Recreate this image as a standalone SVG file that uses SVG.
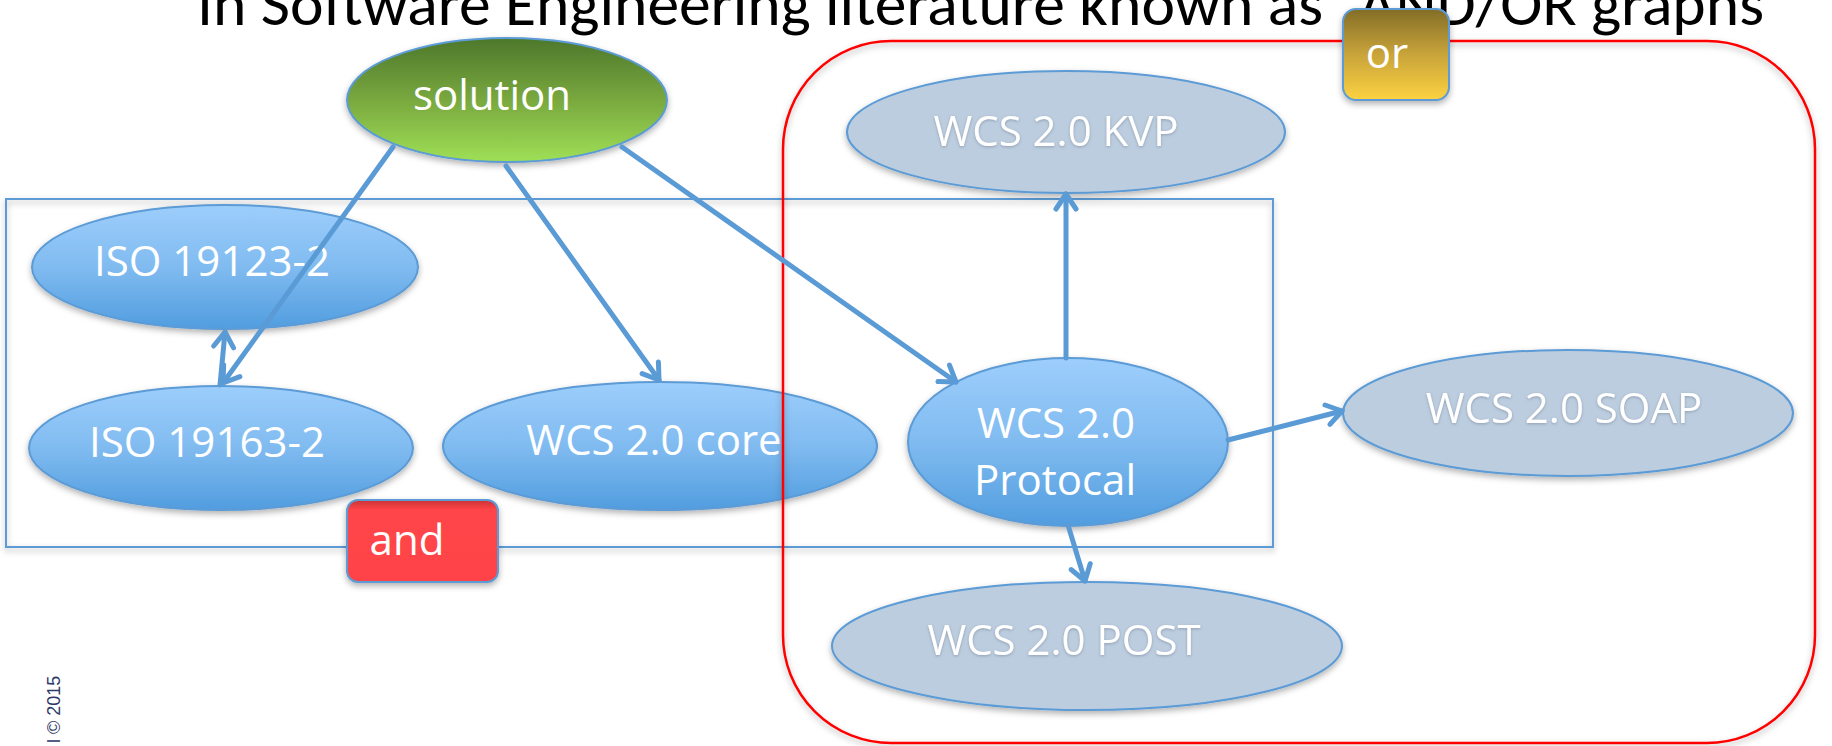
<svg xmlns="http://www.w3.org/2000/svg" width="1832" height="746" viewBox="0 0 1832 746">
  <style>
    .lbl { font-family: "Open Sans", "Liberation Sans", sans-serif; font-size: 42px; fill: #ffffff; text-anchor: middle; }
    .node { stroke: #5b9bd5; stroke-width: 2; }
    .blue { fill: url(#blueGrad); }
    .gray { fill: #bccddf; }
    .conn { fill: none; stroke: #5b9bd5; stroke-width: 5; stroke-linecap: round; }
  </style>
  <defs>
    <linearGradient id="blueGrad" x1="0" y1="0" x2="0" y2="1">
      <stop offset="0" stop-color="#9dcefc"/>
      <stop offset="0.5" stop-color="#80bbf0"/>
      <stop offset="1" stop-color="#519ddf"/>
    </linearGradient>
    <linearGradient id="greenGrad" x1="0" y1="0" x2="0" y2="1">
      <stop offset="0" stop-color="#4d782b"/>
      <stop offset="0.5" stop-color="#79a83f"/>
      <stop offset="1" stop-color="#9fe056"/>
    </linearGradient>
    <linearGradient id="goldGrad" x1="0" y1="0" x2="0" y2="1">
      <stop offset="0" stop-color="#836d27"/>
      <stop offset="0.5" stop-color="#c8a43a"/>
      <stop offset="1" stop-color="#fdd241"/>
    </linearGradient>
    <linearGradient id="redGrad" x1="0" y1="0" x2="0" y2="1">
      <stop offset="0" stop-color="#c93336"/>
      <stop offset="0.12" stop-color="#ff4548"/>
      <stop offset="1" stop-color="#ff4346"/>
    </linearGradient>
    <filter id="shadow" x="-10%" y="-10%" width="120%" height="130%">
      <feDropShadow dx="0" dy="3" stdDeviation="3" flood-color="#000" flood-opacity="0.3"/>
    </filter>
    <filter id="tshadow" x="-10%" y="-20%" width="120%" height="140%">
      <feDropShadow dx="0" dy="1" stdDeviation="1.5" flood-color="#6f7f90" flood-opacity="0.6"/>
    </filter>
    <marker id="arr" viewBox="0 0 26 26" refX="22" refY="13" markerWidth="26" markerHeight="26" markerUnits="userSpaceOnUse" orient="auto">
      <path d="M7,3 L22,13 L7,23" fill="none" stroke="#5b9bd5" stroke-width="5" stroke-linecap="round" stroke-linejoin="round"/>
    </marker>
  </defs>

  <rect width="1832" height="746" fill="#ffffff"/>

  <text id="title" x="197" y="25" font-family="Calibri, 'Open Sans', 'Liberation Sans', sans-serif" font-size="62" fill="#000000" textLength="1567" lengthAdjust="spacingAndGlyphs">In Software Engineering literature known as “AND/OR graphs</text>

  <g id="and-group">
    <rect x="6" y="199" width="1267" height="348" fill="none" stroke="#5b9bd5" stroke-width="2" filter="url(#shadow)"/>
  </g>

  <g id="iso19123">
    <ellipse class="node blue" cx="225" cy="267" rx="193" ry="62" filter="url(#shadow)"/>
    <text class="lbl" x="212" y="276">ISO 19123-2</text>
  </g>
  <g id="iso19163">
    <ellipse class="node blue" cx="221" cy="448" rx="192" ry="62" filter="url(#shadow)"/>
    <text class="lbl" x="207" y="457">ISO 19163-2</text>
  </g>
  <g id="wcs-core">
    <ellipse class="node blue" cx="660" cy="446" rx="217" ry="64" filter="url(#shadow)"/>
    <text class="lbl" x="654" y="455">WCS 2.0 core</text>
  </g>

  <g id="or-group">
    <rect x="783" y="41" width="1032" height="702" rx="108" ry="108" fill="none" stroke="#ff0000" stroke-width="2.5" filter="url(#shadow)"/>
  </g>

  <g id="solution">
    <ellipse class="node" cx="507" cy="100" rx="160" ry="62" fill="url(#greenGrad)" filter="url(#shadow)"/>
    <text class="lbl" x="492" y="110" font-size="41">solution</text>
  </g>

  <g id="wcs-kvp">
    <ellipse class="node gray" cx="1066" cy="132" rx="219" ry="61" filter="url(#shadow)"/>
    <text class="lbl" x="1056" y="146" filter="url(#tshadow)">WCS 2.0 KVP</text>
  </g>
  <g id="wcs-protocal">
    <ellipse class="node blue" cx="1068" cy="442" rx="160" ry="84" filter="url(#shadow)"/>
    <text class="lbl" x="1056" y="438">WCS 2.0</text>
    <text class="lbl" x="1055" y="495">Protocal</text>
  </g>
  <g id="wcs-soap">
    <ellipse class="node gray" cx="1568" cy="413" rx="225" ry="63" filter="url(#shadow)"/>
    <text class="lbl" x="1564" y="423" filter="url(#tshadow)">WCS 2.0 SOAP</text>
  </g>
  <g id="wcs-post">
    <ellipse class="node gray" cx="1087" cy="646" rx="255" ry="64" filter="url(#shadow)"/>
    <text class="lbl" x="1064" y="655" filter="url(#tshadow)">WCS 2.0 POST</text>
  </g>

  <g id="connectors">
    <line class="conn" x1="393" y1="147" x2="223" y2="383" marker-end="url(#arr)"/>
    <line class="conn" x1="220" y1="385" x2="225" y2="332" marker-end="url(#arr)"/>
    <line class="conn" x1="506" y1="166" x2="659" y2="380" marker-end="url(#arr)"/>
    <line class="conn" x1="622" y1="147" x2="956" y2="382" marker-end="url(#arr)"/>
    <line class="conn" x1="1066" y1="358" x2="1066" y2="194" marker-end="url(#arr)"/>
    <line class="conn" x1="1228" y1="440" x2="1342" y2="411" marker-end="url(#arr)"/>
    <line class="conn" x1="1068" y1="525" x2="1085" y2="581" marker-end="url(#arr)"/>
  </g>

  <g id="and-tag">
    <rect x="347" y="500" width="151" height="82" rx="11" ry="11" fill="url(#redGrad)" stroke="#5b9bd5" stroke-width="2" filter="url(#shadow)"/>
    <text class="lbl" x="407" y="555">and</text>
  </g>
  <g id="or-tag">
    <rect x="1343" y="9" width="106" height="91" rx="13" ry="13" fill="url(#goldGrad)" stroke="#5b9bd5" stroke-width="2" filter="url(#shadow)"/>
    <text class="lbl" x="1387" y="68" font-size="41">or</text>
  </g>

  <text id="copyright" transform="translate(60,743) rotate(-90)" x="0" y="0" text-anchor="start" font-family="'Liberation Sans', Arial, sans-serif" font-size="18" fill="#2e3868">l © 2015</text>
</svg>
